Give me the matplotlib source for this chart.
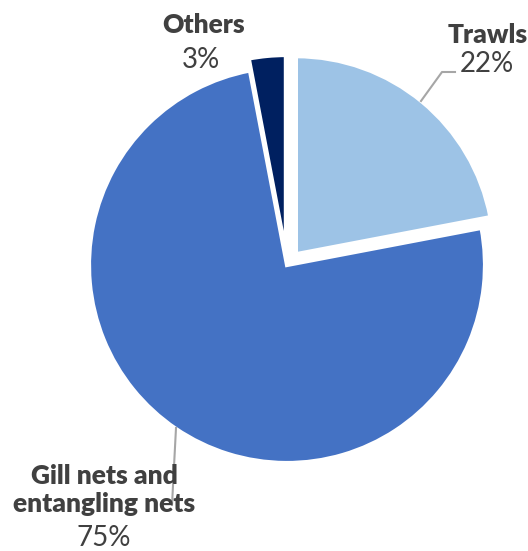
import matplotlib.pyplot as plt

labels = ['Trawls', 'Gill nets and\nentangling nets', 'Others']
shares = [22, 75, 3]
colors = ['#9DC3E6', '#4472C4', '#002060']

W, H = 528, 551
fig = plt.figure(figsize=(W / 100, H / 100), dpi=100)
ax = fig.add_axes([0, 0, 1, 1])

# explode is in data units (pixels here)
ax.pie(shares, colors=colors, explode=[14, 0, 12], startangle=90, counterclock=False,
       center=(287, H - 265), radius=198, frame=True,
       wedgeprops=dict(edgecolor='white', linewidth=3))
ax.set_xlim(0, W)
ax.set_ylim(0, H)
ax.set_aspect('equal')
ax.axis('off')

tc = '#404040'
font = 'Lato'
bold = dict(ha='center', va='center', fontsize=19, fontweight='heavy', color=tc, family=font)
pct = dict(ha='center', va='center', fontsize=20, fontweight='normal', color=tc, family=font)

ax.text(204, H - 25, 'Others', **bold)
ax.text(201, H - 60, '%d%%' % shares[2], **pct)
ax.text(488, H - 35, 'Trawls', **bold)
ax.text(487, H - 64, '%d%%' % shares[0], **pct)
ax.text(104, H - 490, labels[1], linespacing=1.2, **bold)
ax.text(104, H - 538, '%d%%' % shares[1], **pct)

# leader lines
ax.plot([455, 442, 421], [H - 72, H - 72, H - 101], color='#A6A6A6', lw=1.5)
ax.plot([176, 172], [H - 428, H - 505], color='#A6A6A6', lw=1.5)

fig.savefig('out.png', dpi=100)
